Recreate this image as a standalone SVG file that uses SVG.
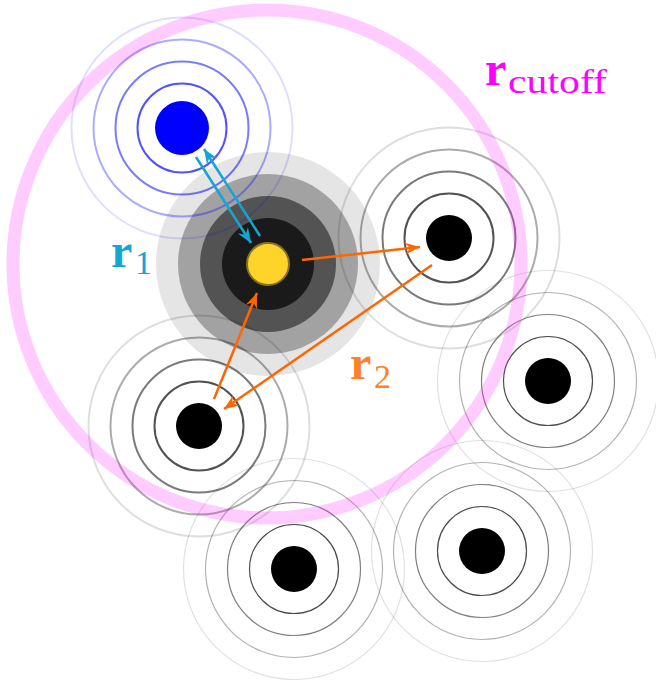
<svg xmlns="http://www.w3.org/2000/svg" width="656" height="681" viewBox="0 0 656 681">
<style>
.s1{fill:none;stroke:#000;stroke-width:2;stroke-opacity:.68}
.s2{fill:none;stroke:#000;stroke-width:2;stroke-opacity:.52}
.s3{fill:none;stroke:#000;stroke-width:2;stroke-opacity:.33}
.s4{fill:none;stroke:#000;stroke-width:2;stroke-opacity:.13}
.w1{fill:none;stroke:#000;stroke-width:1.2;stroke-opacity:.7}
.w2{fill:none;stroke:#000;stroke-width:1.2;stroke-opacity:.5}
.w3{fill:none;stroke:#000;stroke-width:1.2;stroke-opacity:.3}
.w4{fill:none;stroke:#000;stroke-width:1.2;stroke-opacity:.12}
.b1{fill:none;stroke:#00f;stroke-width:2;stroke-opacity:.68}
.b2{fill:none;stroke:#00f;stroke-width:2;stroke-opacity:.52}
.b3{fill:none;stroke:#00f;stroke-width:2;stroke-opacity:.33}
.b4{fill:none;stroke:#00f;stroke-width:2;stroke-opacity:.13}
.lbl{font-family:"Liberation Serif","DejaVu Serif",serif}
.big{font-weight:bold;font-size:48px}
.sub{font-size:34px}
.cy{fill:none;stroke:#13a6d3;stroke-width:2.5}
.or{fill:none;stroke:#ff6600;stroke-width:2.5}
</style>
<defs>
<marker id="ac" markerUnits="userSpaceOnUse" markerWidth="18" markerHeight="14" viewBox="-16 -7 17 14" refX="0" refY="0" orient="auto">
<path d="M0,0 L-15,-6 L-10,0 L-15,6 Z" fill="#13a6d3"/>
</marker>
<marker id="ao" markerUnits="userSpaceOnUse" markerWidth="18" markerHeight="14" viewBox="-16 -7 17 14" refX="0" refY="0" orient="auto">
<path d="M0,0 L-15,-6 L-10,0 L-15,6 Z" fill="#ff6600"/>
</marker>
</defs>

<g id="center-atom">
<circle cx="268" cy="264" r="112" fill="#e5e5e5"/>
<circle cx="268" cy="264" r="90" fill="#a2a2a2"/>
<circle cx="268" cy="264" r="68" fill="#535353"/>
<circle cx="268" cy="264" r="46" fill="#1a1a1a"/>
<circle cx="268" cy="264" r="21" fill="#ffd42a" stroke="#8a7320" stroke-width="2"/>
</g>

<g id="blue-atom">
<circle cx="182" cy="128" r="44.5" class="b1"/>
<circle cx="182" cy="128" r="66.5" class="b2"/>
<circle cx="182" cy="128" r="88.5" class="b3"/>
<circle cx="182" cy="128" r="110.5" class="b4"/>
<circle cx="182" cy="128" r="27" fill="#00f"/>
</g>

<g id="atom-right">
<circle cx="449" cy="238" r="44.5" class="s1"/>
<circle cx="449" cy="238" r="66.5" class="s2"/>
<circle cx="449" cy="238" r="88.5" class="s3"/>
<circle cx="449" cy="238" r="110.5" class="s4"/>
<circle cx="449" cy="238" r="23" fill="#000"/>
</g>

<g id="atom-lowerleft">
<circle cx="199" cy="426" r="44.5" class="s1"/>
<circle cx="199" cy="426" r="66.5" class="s2"/>
<circle cx="199" cy="426" r="88.5" class="s3"/>
<circle cx="199" cy="426" r="110.5" class="s4"/>
<circle cx="199" cy="426" r="23" fill="#000"/>
</g>

<g id="atom-farright">
<circle cx="548" cy="381" r="44.5" class="w1"/>
<circle cx="548" cy="381" r="66.5" class="w2"/>
<circle cx="548" cy="381" r="88.5" class="w3"/>
<circle cx="548" cy="381" r="110.5" class="w4"/>
<circle cx="548" cy="381" r="23" fill="#000"/>
</g>

<g id="atom-bottom">
<circle cx="294" cy="569" r="44.5" class="w1"/>
<circle cx="294" cy="569" r="66.5" class="w2"/>
<circle cx="294" cy="569" r="88.5" class="w3"/>
<circle cx="294" cy="569" r="110.5" class="w4"/>
<circle cx="294" cy="569" r="23" fill="#000"/>
</g>

<g id="atom-bottomright">
<circle cx="482" cy="551" r="44.5" class="w1"/>
<circle cx="482" cy="551" r="66.5" class="w2"/>
<circle cx="482" cy="551" r="88.5" class="w3"/>
<circle cx="482" cy="551" r="110.5" class="w4"/>
<circle cx="482" cy="551" r="23" fill="#000"/>
</g>

<g id="cutoff">
<circle cx="267" cy="264" r="254" fill="none" stroke="#f0f" stroke-opacity=".2" stroke-width="13"/>
</g>

<g id="connectors">
<line x1="196" y1="157" x2="251" y2="243" class="cy" marker-end="url(#ac)"/>
<line x1="260" y1="236" x2="204" y2="149" class="cy" marker-end="url(#ac)"/>
<line x1="302" y1="260" x2="420" y2="247" class="or" marker-end="url(#ao)"/>
<line x1="432" y1="265" x2="224" y2="409" class="or" marker-end="url(#ao)"/>
<line x1="214" y1="399" x2="257" y2="293" class="or" marker-end="url(#ao)"/>
</g>

<g id="labels" class="lbl">
<text x="111" y="267" fill="#13a6d3"><tspan class="big">r</tspan><tspan class="sub" x="135" y="274">1</tspan></text>
<text x="350" y="379" fill="#ff7f2a"><tspan class="big">r</tspan><tspan class="sub" x="374" y="388">2</tspan></text>
<text x="485" y="85" fill="#f0f"><tspan class="big">r</tspan><tspan class="sub" x="508" y="93" textLength="99" lengthAdjust="spacingAndGlyphs">cutoff</tspan></text>
</g>
</svg>
